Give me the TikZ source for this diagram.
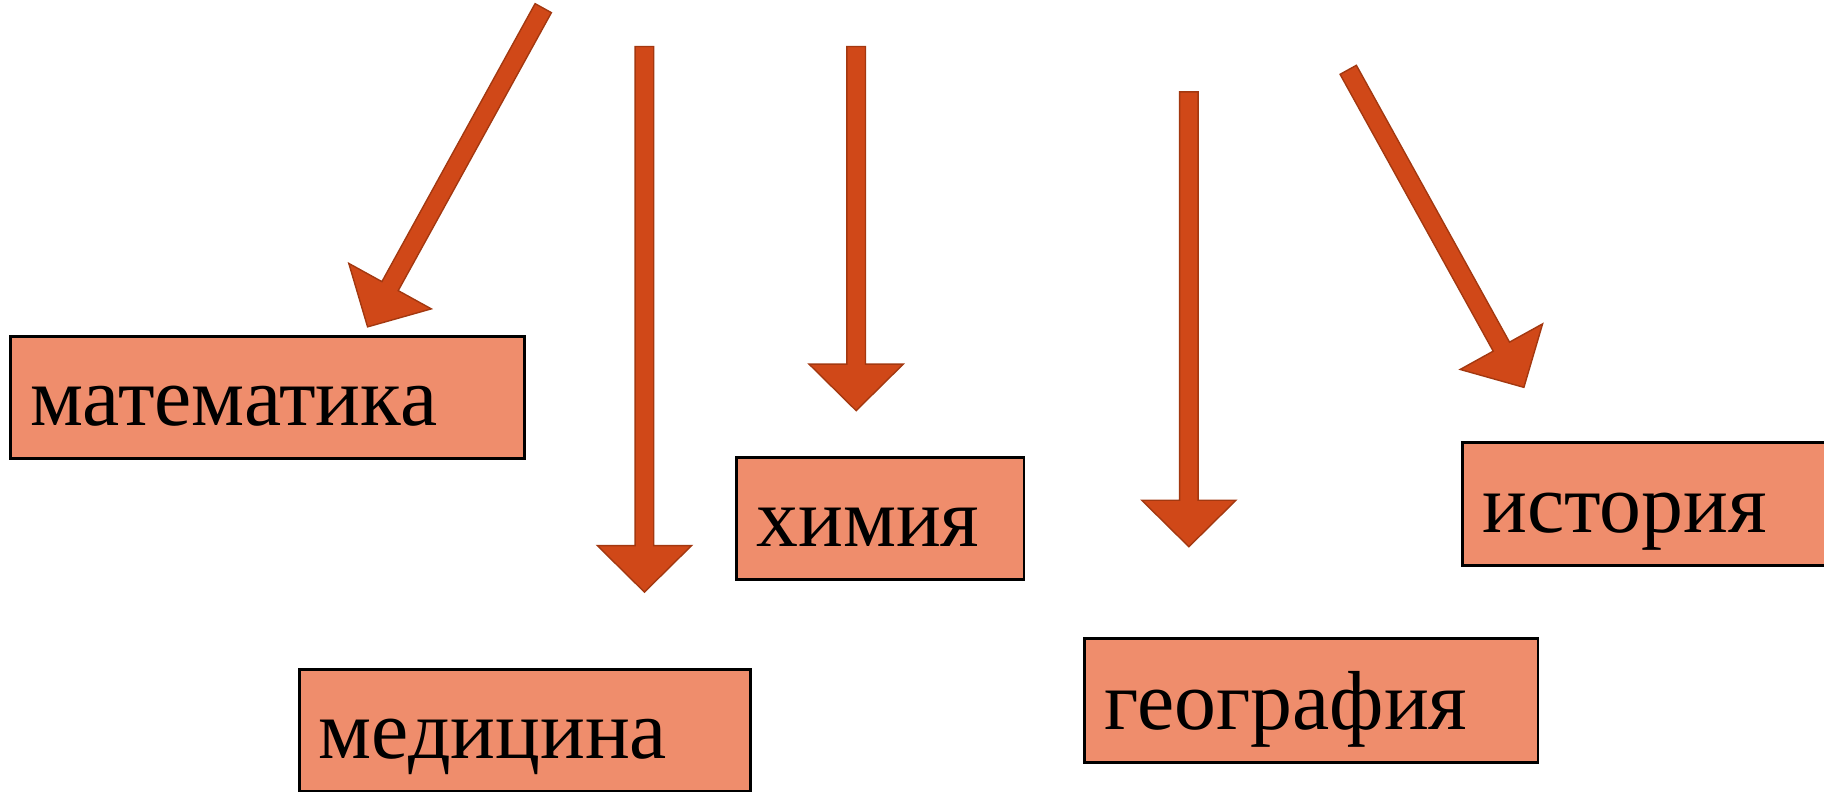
\documentclass[tikz,border=0pt]{standalone}
\usepackage{fontspec}
\setmainfont{Liberation Serif}
\usetikzlibrary{calc,positioning}
\definecolor{boxfill}{RGB}{239,141,108}
\definecolor{arrowfill}{RGB}{208,72,24}
\definecolor{arrowline}{RGB}{163,56,16}
\tikzset{subject/.style={draw=black, line width=2.4pt, fill=boxfill, anchor=north west,
           inner xsep=17pt, inner ysep=0pt, minimum height=105pt,
           text height=49pt, text depth=0pt, align=left,
           font=\fontsize{72}{80}\selectfont},
         bigarrow/.style={fill=arrowfill, draw=arrowline, line width=1.2pt, line join=miter}}
% block arrow from #1 (tail) to #2 (tip)
\newcommand{\subjectarrow}[2]{%
  \coordinate (hb) at ($(#2)!40pt!(#1)$);
  \filldraw[bigarrow] ($(#1)!8pt!90:(#2)$) -- ($(hb)!8pt!90:(#2)$)
    -- ($(hb)!40.5pt!90:(#2)$) -- (#2) -- ($(hb)!40.5pt!-90:(#2)$)
    -- ($(hb)!8pt!-90:(#2)$) -- ($(#1)!8pt!-90:(#2)$) -- cycle;}

\begin{document}
\begin{tikzpicture}[x=1pt, y=-1pt]
	\useasboundingbox (0,0) rectangle (1568,680);

	% subjects
	\node[subject, text width=408pt] (math) at (8,288) {математика};
	\node[subject, text width=213pt] (chem) at (632,392) {химия};
	\node[subject, text width=354pt] (med) at (256,574) {медицина};
	\node[subject, text width=356pt, minimum height=106pt] (geo) at (931,548) {география};
	\node[subject, text width=280pt, minimum height=106pt] (hist) at (1256,379) {история};

	% arrow ends
	\coordinate (math-tail) at (467,7);    \coordinate (math-tip) at (316,281);
	\coordinate (med-tail)  at (554,40);   \coordinate (med-tip)  at (554,509);
	\coordinate (chem-tail) at (736,40);   \coordinate (chem-tip) at (736,353);
	\coordinate (geo-tail)  at (1022,79);  \coordinate (geo-tip)  at (1022,470);
	\coordinate (hist-tail) at (1159,60);  \coordinate (hist-tip) at (1310,333);

	\foreach \s in {math,med,chem,geo,hist}
		\subjectarrow{\s-tail}{\s-tip};
\end{tikzpicture}
\end{document}
